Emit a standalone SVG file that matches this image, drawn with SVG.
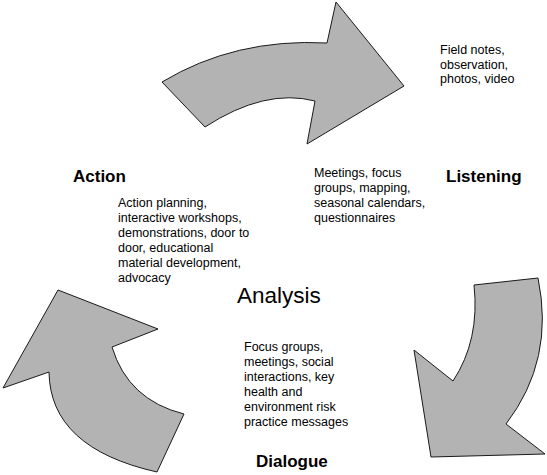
<svg xmlns="http://www.w3.org/2000/svg" width="547" height="475" viewBox="0 0 547 475">
<style>
.arrow{fill:#b3b3b3;stroke:#1a1a1a;stroke-width:1;stroke-linejoin:miter}
.title{font-family:"Liberation Sans",Arial,sans-serif;font-size:17px;font-weight:bold;fill:#000}
.big{font-family:"Liberation Sans",Arial,sans-serif;font-size:22.5px;fill:#000}
.body{font-family:"Liberation Sans",Arial,sans-serif;font-size:12.5px;fill:#000}
</style>
<rect width="547" height="475" fill="#fff"/>
<g id="connectors">
<path class="arrow" d="M162,82 Q235,38 327,43 L336,2 L404,86 L307,144 L315,101 Q265,88 205,127 Z"/>
<path class="arrow" d="M474,285 L538,278 Q555,360 506,424 L545,454 L431,457 L414,350 L453,381 Q480,340 474,285 Z"/>
<path class="arrow" d="M58,290 L158,329 L112,347 Q128,400 184,414 L157,472 Q50,448 49,372 L3,388 Z"/>
</g>
<g id="action">
<text class="title" x="73" y="182">Action</text>
<text class="body" x="118" y="207">Action planning,</text>
<text class="body" x="118" y="222">interactive workshops,</text>
<text class="body" x="118" y="237">demonstrations, door to</text>
<text class="body" x="118" y="252">door, educational</text>
<text class="body" x="118" y="267">material development,</text>
<text class="body" x="118" y="282">advocacy</text>
</g>
<g id="listening">
<text class="title" x="446" y="182">Listening</text>
<text class="body" x="440" y="54">Field notes,</text>
<text class="body" x="440" y="68.5">observation,</text>
<text class="body" x="440" y="83">photos, video</text>
<text class="body" x="314" y="177">Meetings, focus</text>
<text class="body" x="314" y="192">groups, mapping,</text>
<text class="body" x="314" y="207">seasonal calendars,</text>
<text class="body" x="314" y="222">questionnaires</text>
</g>
<g id="analysis">
<text class="big" x="237" y="303">Analysis</text>
</g>
<g id="dialogue">
<text class="title" x="256" y="467">Dialogue</text>
<text class="body" x="244" y="351">Focus groups,</text>
<text class="body" x="244" y="366">meetings, social</text>
<text class="body" x="244" y="381">interactions, key</text>
<text class="body" x="244" y="396">health and</text>
<text class="body" x="244" y="411">environment risk</text>
<text class="body" x="244" y="426">practice messages</text>
</g>
</svg>
